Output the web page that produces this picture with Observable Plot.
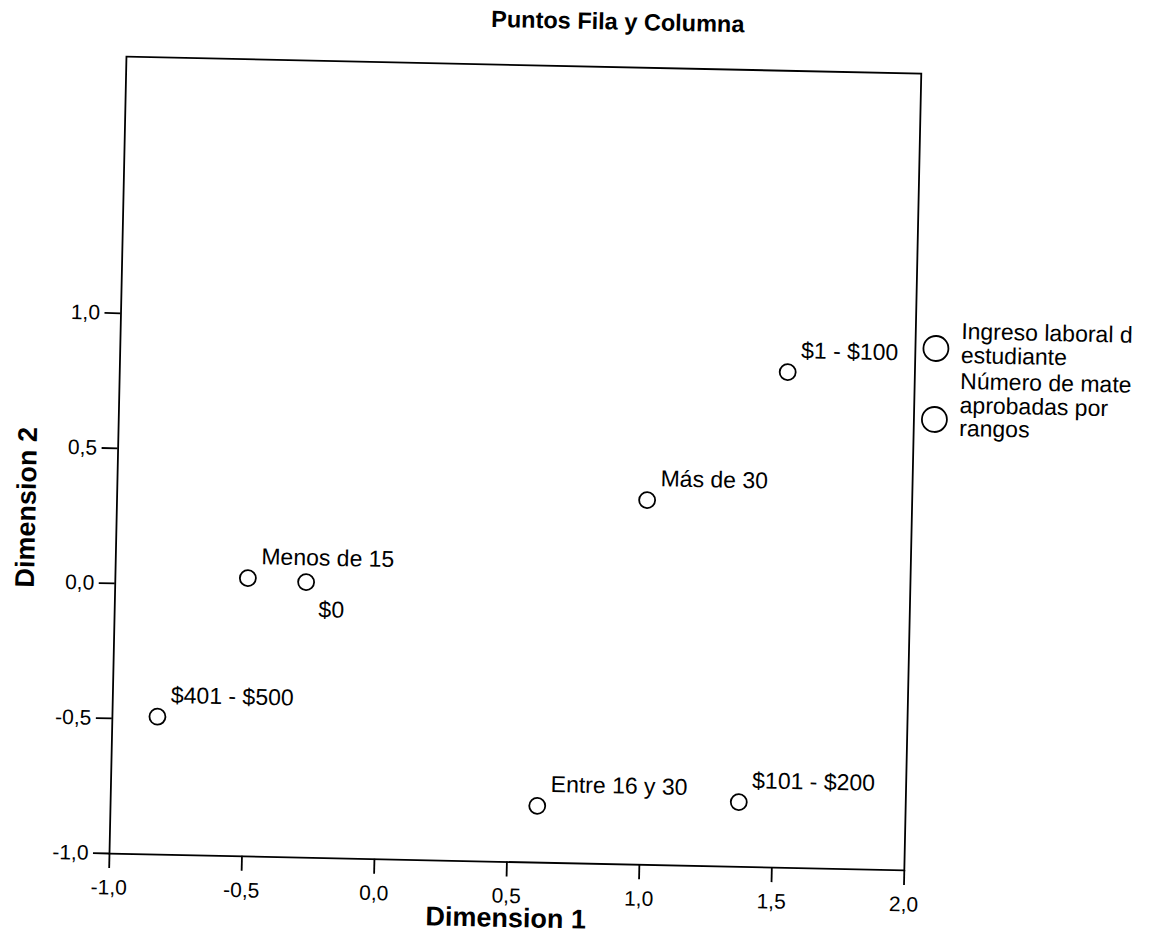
<!DOCTYPE html>
<html>
<head>
<meta charset="utf-8">
<script src="https://cdn.jsdelivr.net/npm/d3@7"></script>
<script src="https://cdn.jsdelivr.net/npm/@observablehq/plot@0.6"></script>
<style>
  html, body { margin: 0; padding: 0; background: white; overflow: hidden; }
  #fig { position: relative; width: 1157px; height: 952px; background: white;
         transform: rotate(1.22deg); transform-origin: 109px 853px;
         font-family: "Liberation Sans", Arial, sans-serif; color: black; }
  #fig svg.plot { position: absolute; left: 0; top: 0; }
  #title { position: absolute; left: 200px; width: 800px; top: -1px; text-align: center;
           font-weight: bold; font-size: 23.5px; line-height: 24px; }
  .leg-text { position: absolute; left: 950px; white-space: nowrap;
              font-size: 23px; line-height: 23.5px; }
  .leg-swatch { position: absolute; }
  #fig svg g[aria-label="x-axis"] path, #fig svg g[aria-label="y-axis"] path,
  #fig svg g[aria-label="x-axis tick"] path, #fig svg g[aria-label="y-axis tick"] path { stroke-width: 1.8; }
</style>
</head>
<body>
<div id="fig"></div>
<script>
// ---- data ----
const title = "Puntos Fila y Columna";
const xLabel = "Dimension 1";
const yLabel = "Dimension 2";
const xTicks = [-1, -0.5, 0, 0.5, 1, 1.5, 2];
const yTicks = [-1, -0.5, 0, 0.5, 1];

// Ingreso laboral del estudiante (row points)
const rowNames = ["$0", "$1 - $100", "$101 - $200", "$401 - $500"];
const rowDim1 = [-0.28, 1.52, 1.37, -0.83];
const rowDim2 = [0.02, 0.835, -0.76, -0.49];

// Número de materias aprobadas por rangos (column points)
const colNames = ["Menos de 15", "Entre 16 y 30", "Más de 30"];
const colDim1 = [-0.50, 0.61, 1.0];
const colDim2 = [0.03, -0.79, 0.35];

// legend text as it appears (truncated by the original chart)
const legendLines = [
  ["Ingreso laboral d", "estudiante"],
  ["Número de mate", "aprobadas por", "rangos"]
];

// ---- build ----
const points = [
  ...rowNames.map((n, i) => ({name: n, d1: rowDim1[i], d2: rowDim2[i], group: 0})),
  ...colNames.map((n, i) => ({name: n, d1: colDim1[i], d2: colDim2[i], group: 1}))
];
const fmt = d => d3.format(".1f")(d).replace("−", "-").replace(".", ",");
const font = "'Liberation Sans', Arial, sans-serif";

const chart = Plot.plot({
  width: 1157,
  height: 952,
  marginLeft: 109,
  marginTop: 56,
  marginRight: 253,
  marginBottom: 99,
  style: {fontFamily: font, fontSize: "21px", color: "black", background: "white", overflow: "visible"},
  x: {domain: [-1, 2], ticks: xTicks, tickSize: 15, tickPadding: 11, tickFormat: fmt, label: null},
  y: {domain: [-1, 1.95], ticks: yTicks, tickSize: 16, tickPadding: 5, tickFormat: fmt, label: null},
  marks: [
    Plot.frame({stroke: "black", strokeWidth: 1.8}),
    Plot.dot(points, {x: "d1", y: "d2", r: 8, stroke: "black", strokeWidth: 1.8, fill: "none"}),
    Plot.text(points.filter(d => d.name !== "$0"), {x: "d1", y: "d2", text: "name", textAnchor: "start",
      dx: 13, dy: -21.5, fontSize: 23, fill: "black"}),
    Plot.text(points.filter(d => d.name === "$0"), {x: "d1", y: "d2", text: "name", textAnchor: "start",
      dx: 13, dy: 27.5, fontSize: 23, fill: "black"}),
    Plot.text([xLabel], {frameAnchor: "bottom", dy: 65, fontSize: 27, fontWeight: "bold", fill: "black"}),
    Plot.text([yLabel], {frameAnchor: "left", rotate: -90, dx: -90, dy: 134.5, fontSize: 27, fontWeight: "bold", fill: "black"})
  ]
});

const fig = document.getElementById("fig");
fig.appendChild(chart);

const t = document.createElement("div");
t.id = "title";
t.textContent = title;
fig.appendChild(t);

// legend
const legTops = [302, 352];
const swatchY = [331, 402];
legendLines.forEach((lines, i) => {
  const sw = document.createElementNS("http://www.w3.org/2000/svg", "svg");
  sw.setAttribute("class", "leg-swatch");
  sw.setAttribute("width", 32);
  sw.setAttribute("height", 32);
  sw.style.left = (925 - 16) + "px";
  sw.style.top = (swatchY[i] - 16) + "px";
  const c = document.createElementNS("http://www.w3.org/2000/svg", "circle");
  c.setAttribute("cx", 16); c.setAttribute("cy", 16); c.setAttribute("r", 12.5);
  c.setAttribute("fill", "none"); c.setAttribute("stroke", "black"); c.setAttribute("stroke-width", 1.8);
  sw.appendChild(c);
  fig.appendChild(sw);
  const tx = document.createElement("div");
  tx.className = "leg-text";
  tx.style.top = legTops[i] + "px";
  lines.forEach(l => { const d = document.createElement("div"); d.textContent = l; tx.appendChild(d); });
  fig.appendChild(tx);
});
</script>
</body>
</html>
